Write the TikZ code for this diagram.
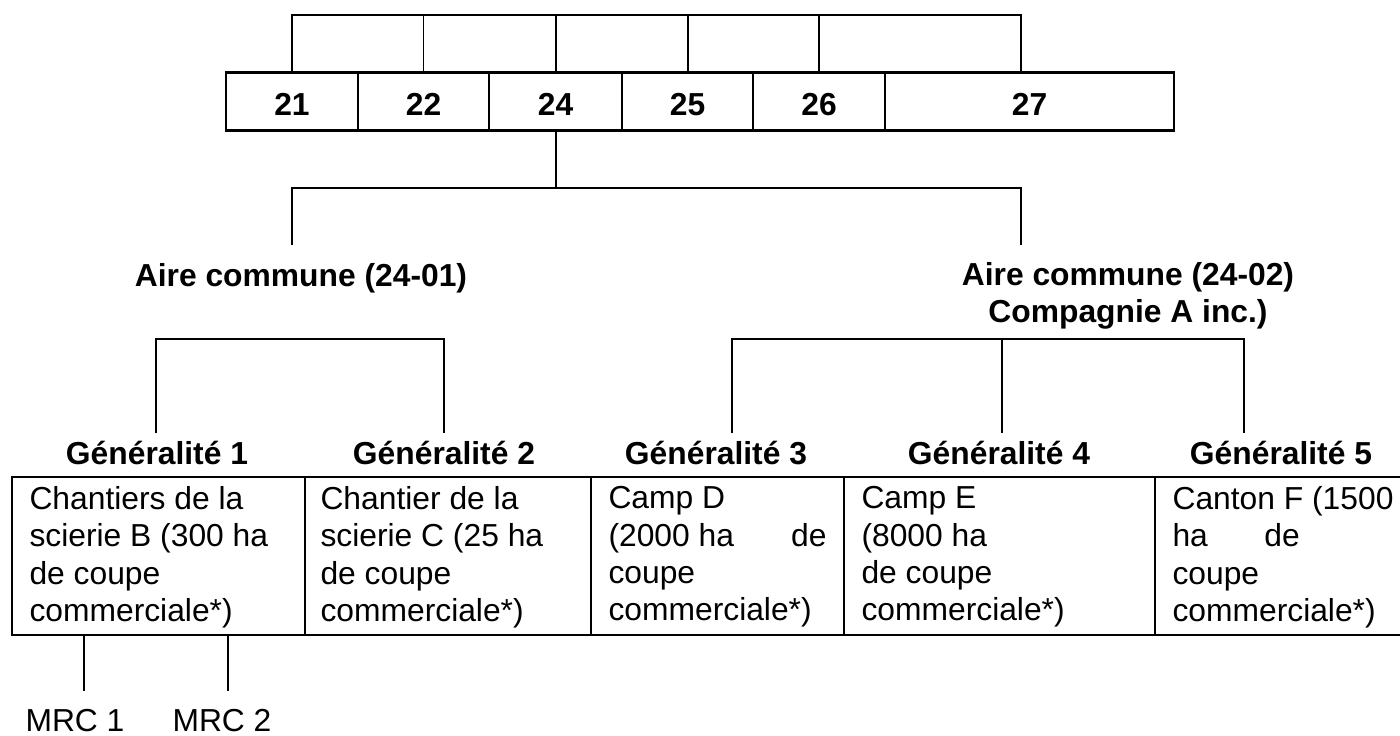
\documentclass[tikz,border=0pt]{standalone}
\usepackage{fontspec}
\setmainfont{Liberation Sans}
\usepackage{tikz}
\newcommand{\px}{0.3774pt}
\tikzset{
  cellbox/.style={draw, line width=1.1pt, inner sep=0pt, minimum height=58*\px, text height=10.6pt, text depth=0pt, font=\bfseries\fontsize{12}{14.1}\selectfont},
  headlbl/.style={inner sep=0pt, align=center, font=\bfseries\fontsize{12}{14.1}\selectfont},
  celltxt/.style={inner sep=0pt, anchor=north west, align=left, font=\fontsize{12}{14.1}\selectfont},
  plainlbl/.style={inner sep=0pt, font=\fontsize{12}{14.1}\selectfont},
  link/.style={line width=0.75pt},
  tableline/.style={line width=1.1pt}
}

\begin{document}
\begin{tikzpicture}[x=0.3774pt,y=0.3774pt,yscale=-1,xscale=1]
\useasboundingbox (0,0) rectangle (1400,735);

%Shape: top row of cells
\node[cellbox, minimum width=132*\px] (c21) at (292,101.5) {21};
\node[cellbox, minimum width=131*\px] (c22) at (423.5,101.5) {22};
\node[cellbox, minimum width=133*\px] (c24) at (555.5,101.5) {24};
\node[cellbox, minimum width=131*\px] (c25) at (687.5,101.5) {25};
\node[cellbox, minimum width=132*\px] (c26) at (819,101.5) {26};
\node[cellbox, minimum width=289*\px] (c27) at (1029.5,101.5) {27};

%Straight Lines: bracket above the cells
\coordinate (t27) at (1021,15);
\draw[link] (c21.north) |- (t27) -- (t27 |- c27.north);
\foreach \c in {c22,c24,c25,c26}
  \draw[link] (\c.north) -- (\c.north |- t27);

% Text Node
\node[headlbl] (ac1) at (301,278) {Aire commune (24-01)};
% Text Node
\node[headlbl] (ac2) at (1128,296) {Aire commune (24-02)\\Compagnie A inc.)};

%Straight Lines: from 24 to both common areas
\coordinate (m1) at (292,245);
\coordinate (m2) at (1021,245);
\coordinate (h2) at (1021,188);
\draw[link] (m1) |- (h2) -- (m2);
\draw[link] (c24.south) -- (c24.south |- h2);

% Text Node
\node[headlbl] (g1) at (157,453) {Généralité 1};
\node[headlbl] (g2) at (444,453) {Généralité 2};
\node[headlbl] (g3) at (716,453) {Généralité 3};
\node[headlbl] (g4) at (999,453) {Généralité 4};
\node[headlbl] (g5) at (1281,453) {Généralité 5};

%Straight Lines: brackets above the generalites
\coordinate (d1) at (156,433);
\coordinate (d2) at (444,433);
\coordinate (d3) at (732,433);
\coordinate (d4) at (1002,433);
\coordinate (d5) at (1244,433);
\coordinate (k2) at (444,339);
\coordinate (k5) at (1244,339);
\draw[link] (d1) |- (k2) -- (d2);
\draw[link] (d3) |- (k5) -- (d5);
\draw[link] (d4) -- (d4 |- k5);

%Shape: table
\draw[tableline] (1400,477) -- (12,477) -- (12,635) -- (1400,635);
\foreach \x in {305,591,844,1155}
  \draw[tableline] (\x,477) -- (\x,635);

% Text Node
\node[celltxt] (t1) at (29,486) {Chantiers de la\\scierie B (300 ha\\de coupe\\commerciale*)};
\node[celltxt] (t2) at (320,486) {Chantier de la\\scierie C (25 ha\\de coupe\\commerciale*)};
\node[celltxt] (t3) at (608,486) {Camp D\\\hbox to 82.3pt{(2000 ha\hfill de}\\coupe\\commerciale*)};
\node[celltxt] (t4) at (861,486) {Camp E\\(8000 ha\\de coupe\\commerciale*)};
\node[celltxt] (t5) at (1172,486) {Canton F (1500\\\hbox to 48pt{ha\hfill de}\\coupe\\commerciale*)};

%Straight Lines: below the first cell
\coordinate (r1) at (84,691);
\coordinate (r2) at (228,691);
\coordinate (tb) at (0,635);
\draw[link] (r1) -- (r1 |- tb);
\draw[link] (r2) -- (r2 |- tb);

% Text Node
\node[plainlbl] (mrc1) at (75,721) {MRC 1};
\node[plainlbl] (mrc2) at (222,721) {MRC 2};

\end{tikzpicture}
\end{document}
